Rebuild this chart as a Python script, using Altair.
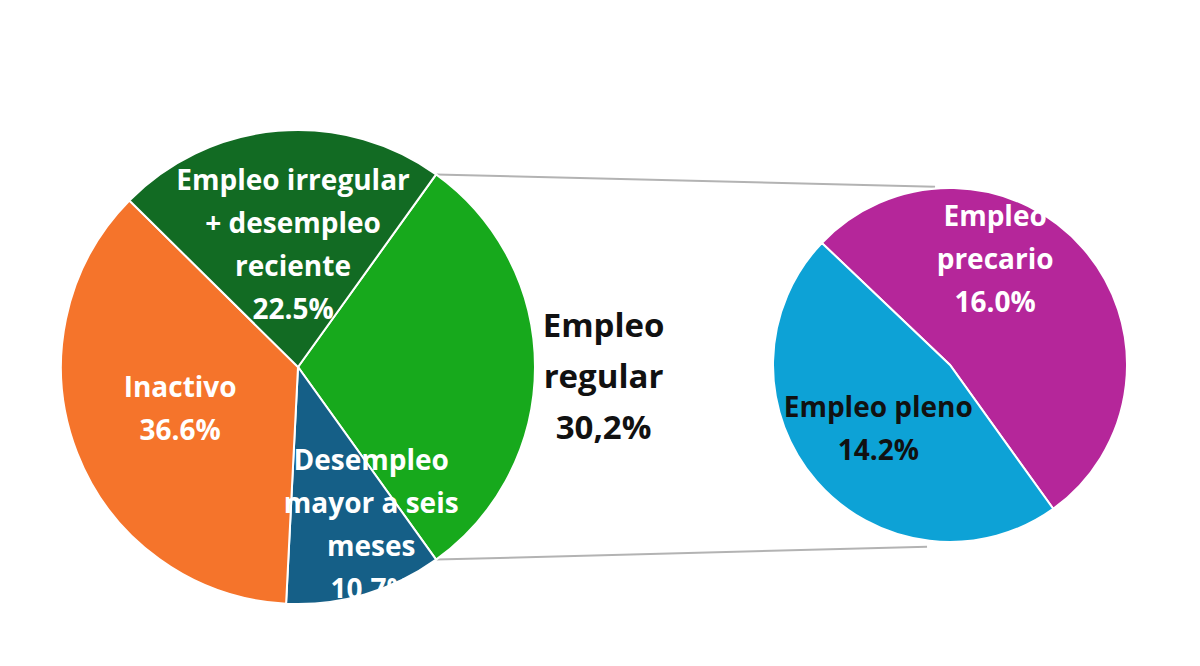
import math

import altair as alt
import pandas as pd

# main pie, clockwise starting from "Empleo regular"
main_names = [
    "Empleo regular",
    "Desempleo mayor a seis meses",
    "Inactivo",
    "Empleo irregular + desempleo reciente",
]
main_shares = [30.2, 10.7, 36.6, 22.5]
main_labels = [
    "Empleo\nregular\n30,2%",
    "Desempleo\nmayor a seis\nmeses\n10.7%",
    "Inactivo\n36.6%",
    "Empleo irregular\n+ desempleo\nreciente\n22.5%",
]

# breakdown of "Empleo regular"
sub_names = ["Empleo precario", "Empleo pleno"]
sub_shares = [16.0, 14.2]
sub_labels = ["Empleo\nprecario\n16.0%", "Empleo pleno\n14.2%"]

# layout (pixels inside the plot area)
W, H = 1184, 590
MAIN_C, MAIN_R = (290, 359), 237
SUB_C, SUB_R = (942, 357), 177
SUB_START = 313.6
FONT = "Open Sans"

COLORS = {
    "Empleo regular": "#17a91c",
    "Desempleo mayor a seis meses": "#155f87",
    "Inactivo": "#f5742b",
    "Empleo irregular + desempleo reciente": "#126b23",
    "Empleo precario": "#b5269a",
    "Empleo pleno": "#0da2d6",
}
DARK_TEXT = {"Empleo regular", "Empleo pleno"}
# label anchor: radius fraction, angle shift from slice middle (deg)
LABEL_PLACE = {
    "Empleo regular": (1.29, 2.0),
    "Desempleo mayor a seis meses": (0.74, -8.3),
    "Inactivo": (0.53, 1.0),
    "Empleo irregular + desempleo reciente": (0.51, 2.5),
    "Empleo precario": (0.64, -25.5),
    "Empleo pleno": (0.55, -1.5),
}


def slices(names, shares, labels, start):
    total = sum(shares)
    rows, a = [], start
    for i, (n, v, lab) in enumerate(zip(names, shares, labels)):
        span = 360 * v / total
        rows.append(dict(name=n, value=v, order=i, label=lab, a0=a, a1=a + span, mid=a + span / 2))
        a += span
    return pd.DataFrame(rows)


def polar(center, r, deg):
    t = math.radians(deg)
    return center[0] + r * math.sin(t), center[1] - r * math.cos(t)


main_start = 90 - 180 * main_shares[0] / sum(main_shares)
main_df = slices(main_names, main_shares, main_labels, main_start)
sub_df = slices(sub_names, sub_shares, sub_labels, SUB_START)

x_scale = alt.Scale(domain=[0, W], nice=False, zero=False)
y_scale = alt.Scale(domain=[H, 0], nice=False, zero=False)


def pie(df, center, r, start):
    s = math.radians(start)
    return (
        alt.Chart(df)
        .mark_arc(radius=r, stroke="white", strokeWidth=2)
        .encode(
            x=alt.value(center[0]),
            y=alt.value(center[1]),
            theta=alt.Theta("value:Q", stack=True, scale=alt.Scale(range=[s, s + 2 * math.pi])),
            color=alt.Color(
                "name:N",
                scale=alt.Scale(domain=list(COLORS), range=list(COLORS.values())),
                legend=None,
            ),
            order=alt.Order("order:Q"),
        )
    )


# one row per text line
lines = []
for df, center, r in [(main_df, MAIN_C, MAIN_R), (sub_df, SUB_C, SUB_R)]:
    for row in df.itertuples():
        rf, shift = LABEL_PLACE[row.name]
        ax, ay = polar(center, r * rf, row.mid + shift)
        big = row.name == "Empleo regular"
        lh = 51 if big else 43
        parts = row.label.split("\n")
        for i, p in enumerate(parts):
            lines.append(
                dict(
                    text=p,
                    x=ax,
                    y=ay + (i - (len(parts) - 1) / 2) * lh,
                    fs=33 if big else 28,
                    tc="#111111" if row.name in DARK_TEXT else "#ffffff",
                )
            )
lines_df = pd.DataFrame(lines)

# connectors from the "Empleo regular" slice edges to the second pie
reg = main_df.iloc[0]
p0 = polar(MAIN_C, MAIN_R, reg.a0)
p1 = polar(MAIN_C, MAIN_R, reg.a1)
q0 = polar(SUB_C, SUB_R * 1.01, -4.8)
q1 = polar(SUB_C, SUB_R * 1.035, 187.2)
conn_df = pd.DataFrame(
    {"x": [p0[0], p1[0]], "y": [p0[1], p1[1]], "x2": [q0[0], q1[0]], "y2": [q0[1], q1[1]]}
)

connectors = (
    alt.Chart(conn_df)
    .mark_rule(color="#b3b3b3", strokeWidth=2)
    .encode(
        x=alt.X("x:Q", scale=x_scale, axis=None),
        y=alt.Y("y:Q", scale=y_scale, axis=None),
        x2="x2:Q",
        y2="y2:Q",
    )
)

texts = (
    alt.Chart(lines_df)
    .mark_text(font=FONT, fontWeight="bold", align="center", baseline="middle", clip=True)
    .encode(
        x=alt.X("x:Q", scale=x_scale, axis=None),
        y=alt.Y("y:Q", scale=y_scale, axis=None),
        text="text:N",
        size=alt.Size("fs:Q", scale=None),
        color=alt.Color("tc:N", scale=None),
    )
)

chart = (
    alt.layer(
        connectors,
        pie(main_df, MAIN_C, MAIN_R, main_start),
        pie(sub_df, SUB_C, SUB_R, SUB_START),
        texts,
    )
    .resolve_scale(theta="independent", color="independent")
    .properties(
        width=W,
        height=H,
        autosize=alt.AutoSizeParams(type="none"),
        padding={"left": 0, "top": 0, "right": 0, "bottom": 40},
    )
    .configure(background="white")
    .configure_view(strokeWidth=0)
)

chart.save("out.html", embed_options={"renderer": "svg", "actions": False})
